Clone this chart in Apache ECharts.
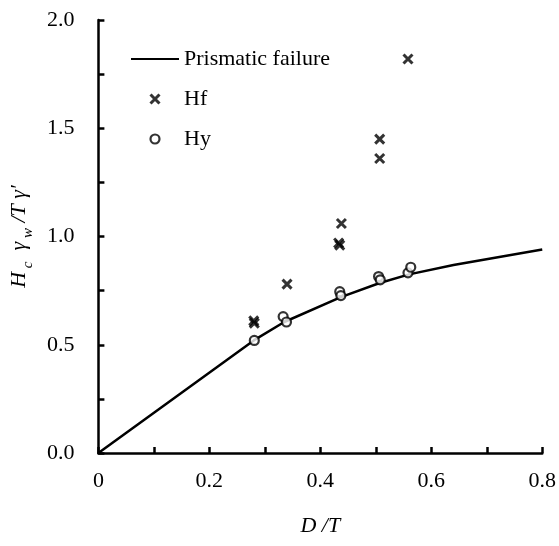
<!DOCTYPE html>
<html style="height: 100%">
<head>
    <meta charset="utf-8">
</head>
<body style="height: 100%; margin: 0; background: #fff">
<div id="container" style="width: 559px; height: 546px"></div>

<script type="text/javascript" src="https://cdn.jsdelivr.net/npm/echarts@6/dist/echarts.min.js"></script>
<script type="text/javascript">
    // prismatic failure curve
    let lineX = [0, 0.28, 0.335, 0.437, 0.507, 0.56, 0.64, 0.8];
    let lineY = [0, 0.52, 0.605, 0.72, 0.785, 0.825, 0.868, 0.94];
    // Hf points (crosses)
    let hfX = [0.28, 0.281, 0.34, 0.433, 0.435, 0.438, 0.507, 0.507, 0.558];
    let hfY = [0.61, 0.60, 0.78, 0.97, 0.96, 1.06, 1.45, 1.36, 1.82];
    // Hy points (circles)
    let hyX = [0.281, 0.333, 0.339, 0.435, 0.437, 0.505, 0.508, 0.558, 0.563];
    let hyY = [0.52, 0.63, 0.605, 0.745, 0.727, 0.815, 0.80, 0.832, 0.858];

    let xTicks = ['0', '0.2', '0.4', '0.6', '0.8'];
    let yTicks = ['0.0', '0.5', '1.0', '1.5', '2.0'];

    function zip(a, b) {
        let out = [];
        for (let i = 0; i < a.length; i++) out.push([a[i], b[i]]);
        return out;
    }

    var dom = document.getElementById('container');
    var myChart = echarts.init(dom);
    var font = 'Liberation Serif';
    var cross = 'path://M0,0L10,10M10,0L0,10';
    var axisW = 2.5;

    var option = {
        animation: false,
        textStyle: {fontFamily: font, color: '#000'},
        grid: {left: 97, right: 14, top: 20, bottom: 93, containLabel: false},
        legend: {
            orient: 'vertical',
            left: 125,
            top: 43,
            itemWidth: 48,
            itemHeight: 9,
            itemGap: 18,
            textStyle: {fontFamily: font, fontSize: 22, color: '#000'},
            data: [
                {name: 'Prismatic failure', itemStyle: {color: 'rgba(0,0,0,0)', borderColor: 'rgba(0,0,0,0)'}},
                {name: 'Hf', icon: cross, itemStyle: {color: 'none', borderColor: '#000', borderWidth: 3}},
                {name: 'Hy', itemStyle: {color: '#fff', borderColor: '#000', borderWidth: 2.2}}
            ]
        },
        xAxis: {
            type: 'value',
            min: 0,
            max: 0.8,
            interval: 0.2,
            name: 'D /T',
            nameLocation: 'middle',
            nameGap: 62,
            nameTextStyle: {fontFamily: font, fontSize: 22, fontStyle: 'italic', color: '#000'},
            axisLine: {lineStyle: {color: '#000', width: axisW}},
            axisTick: {inside: true, length: 6, lineStyle: {color: '#000', width: axisW}},
            minorTick: {show: true, splitNumber: 2, length: 6, lineStyle: {color: '#000', width: axisW}},
            splitLine: {show: false},
            axisLabel: {
                margin: 17, fontSize: 22, color: '#000', fontFamily: font,
                formatter: function (v) { return xTicks[Math.round(v / 0.2)]; }
            }
        },
        yAxis: {
            type: 'value',
            min: 0,
            max: 2,
            interval: 0.5,
            name: '{i|H}{s| c}{i|  γ}{s| w}{i| /T γ′}',
            nameLocation: 'middle',
            nameRotate: 90,
            nameGap: 62,
            nameTextStyle: {
                fontFamily: font, color: '#000',
                rich: {
                    i: {fontFamily: font, fontSize: 22, fontStyle: 'italic', color: '#000', verticalAlign: 'bottom', padding: [0, 0, 6, 0]},
                    s: {fontFamily: font, fontSize: 15, fontStyle: 'italic', color: '#000', verticalAlign: 'bottom'}
                }
            },
            axisLine: {lineStyle: {color: '#000', width: axisW}},
            axisTick: {inside: true, length: 6, lineStyle: {color: '#000', width: axisW}},
            minorTick: {show: true, splitNumber: 2, length: 6, lineStyle: {color: '#000', width: axisW}},
            splitLine: {show: false},
            axisLabel: {
                margin: 24, fontSize: 22, color: '#000', fontFamily: font,
                formatter: function (v) { return yTicks[Math.round(v / 0.5)]; }
            }
        },
        series: [
            {
                name: 'Prismatic failure',
                type: 'line',
                symbol: 'none',
                lineStyle: {color: '#000', width: 2.5},
                itemStyle: {color: '#000'},
                data: zip(lineX, lineY),
                z: 1
            },
            {
                name: 'Hf',
                type: 'scatter',
                symbol: cross,
                symbolSize: 9,
                itemStyle: {color: 'none', borderColor: '#000', borderWidth: 3},
                data: zip(hfX, hfY),
                z: 3
            },
            {
                name: 'Hy',
                type: 'scatter',
                symbol: 'circle',
                symbolSize: 9,
                itemStyle: {color: '#fff', borderColor: '#000', borderWidth: 2.2},
                data: zip(hyX, hyY),
                z: 2
            }
        ]
    };

    if (option && typeof option === 'object') {
        myChart.setOption(option);
    }
</script>
</body>
</html>
